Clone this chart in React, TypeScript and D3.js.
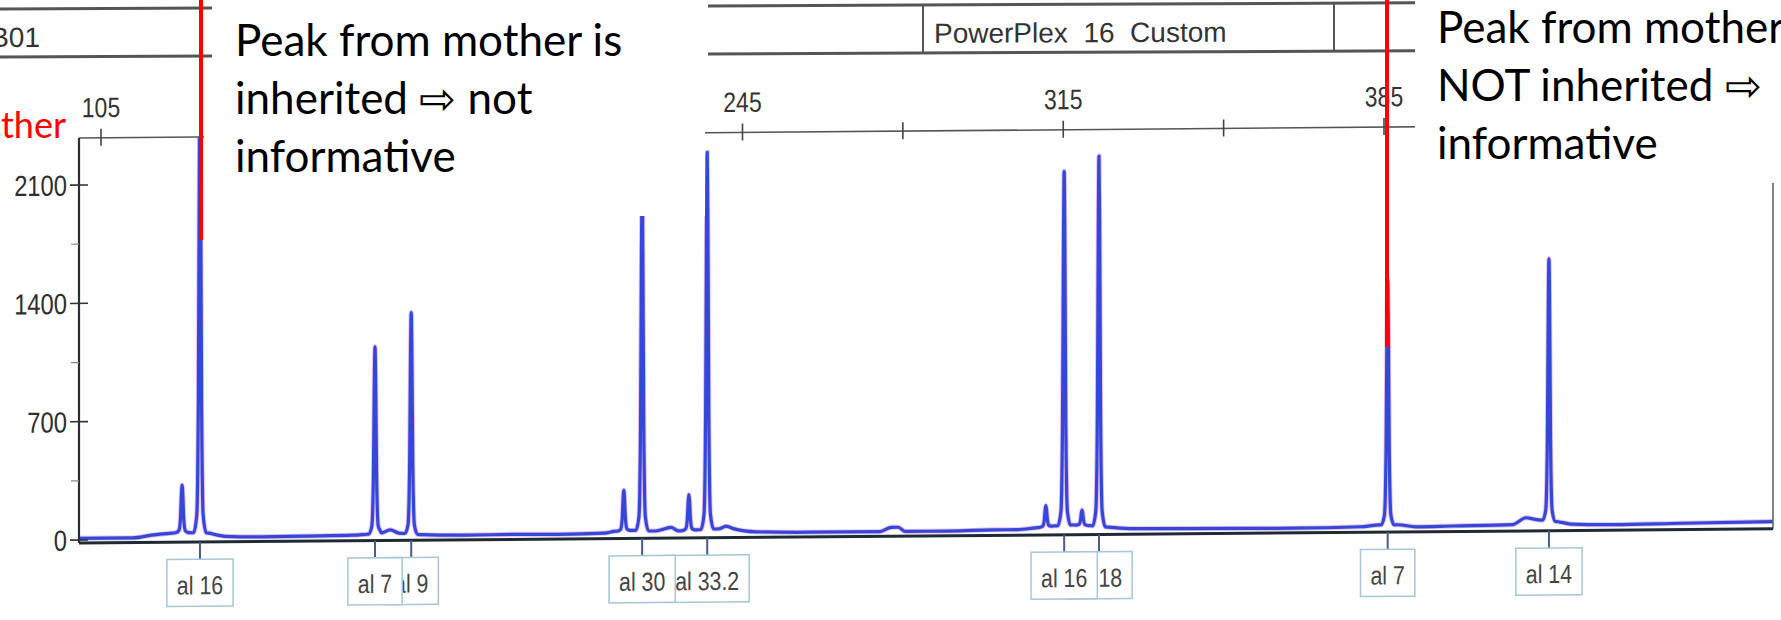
import React, { useEffect, useRef } from 'react';
import * as d3 from 'd3';

// peaks of the blue dye trace: fragment size (bp) and height (RFU)
const peakSizes = [122.7, 126.6, 164.8, 172.7, 219.1, 223.1, 233.3, 237.3, 311.2, 315.2, 319.1, 322.8, 385.8, 421.0];
const peakHeights = [280, 2600, 1105, 1310, 240, 2050, 210, 2230, 125, 2095, 90, 2190, 1450, 1550];

// baseline of the trace between the peaks
const baseSizes = [100, 112, 116, 120, 122, 128.5, 130, 132, 140, 150, 160, 163, 166, 168.1, 170, 175, 185, 195, 205, 215, 217, 221, 226, 229.4, 231, 235, 240, 241.4, 243, 248, 260, 275, 277.5, 279, 280.5, 290, 300, 305, 309, 313, 317, 321, 325, 330, 350, 365, 380, 384, 388, 392, 400, 413, 416, 418, 419.5, 423, 426, 435, 450, 470];
const baseLevels = [10, 10, 25, 35, 40, 35, 25, 15, 10, 12, 15, 20, 25, 45, 25, 15, 10, 12, 10, 15, 25, 30, 25, 45, 25, 30, 35, 50, 35, 15, 10, 10, 35, 35, 10, 10, 15, 15, 25, 35, 40, 35, 25, 15, 12, 10, 15, 25, 25, 12, 15, 20, 60, 50, 45, 35, 20, 15, 20, 25];

// called alleles
const alleleNames = ['al 16', 'al 7', 'al 9', 'al 30', 'al 33.2', 'al 16', 'al 18', 'al 7', 'al 14'];
const alleleSizes = [126.6, 164.8, 172.7, 223.1, 237.3, 315.2, 322.8, 385.8, 421.0];

// axes
const sizeTicks = [105, 140, 175, 210, 245, 280, 315, 350, 385, 420, 455];
const sizeLabels = [105, 245, 315, 385];
const rfuTicks = [0, 700, 1400, 2100];
const rfuMinorTicks = [350, 1050, 1750];

// text laid over the picture
const leftNote = ['Peak from mother is', 'inherited \u21E8 not', 'informative'];
const rightNote = ['Peak from mother is', 'NOT inherited \u21E8', 'informative'];

const W = 1781;
const H = 620;
const ARIAL = "'Liberation Sans', Arial, sans-serif";
const SLIDE_FONT = "Lato, 'Noto Sans', sans-serif";

// shape of one peak: offset in bp and fraction of the height
const profOff = [-1.4, -0.7, -0.35, -0.15, 0, 0.15, 0.35, 0.7, 1.4];
const profFrac = [0, 0.04, 0.3, 0.8, 1, 0.8, 0.3, 0.04, 0];

// the print-out uses a narrow helvetica, so squeeze arial to 82%
function narrowText(parent: any, x: number, y: number, s: string, anchor: string, size: number, fill: string) {
  return parent.append('text')
    .attr('transform', 'translate(' + x + ',' + y + ') scale(0.82,1)')
    .attr('text-anchor', anchor)
    .attr('font-family', ARIAL).attr('font-size', size).attr('fill', fill)
    .text(s);
}

export default function App() {
  const ref = useRef<SVGSVGElement>(null);

  useEffect(() => {
    const svg = d3.select(ref.current);
    svg.selectAll('*').remove();

    const left = 79, right = 1773, top = 138.7, bottom = 543.7;
    const x = d3.scaleLinear().domain([105, 385]).range([101, 1384]);
    const y = d3.scaleLinear().domain([0, 2100]).range([540.7, 185.7]);

    svg.append('defs').append('clipPath').attr('id', 'plotClip')
      .append('rect').attr('x', left).attr('y', top).attr('width', right - left).attr('height', bottom - top);

    // the scan is a little skewed
    const g = svg.append('g').attr('transform', 'skewY(-0.48)');

    // trace
    const baseAt = d3.scaleLinear().domain(baseSizes).range(baseLevels).clamp(true);
    const prof = d3.scaleLinear().domain(profOff).range(profFrac).clamp(true);
    let xs: number[] = baseSizes.slice();
    peakSizes.forEach(s => profOff.forEach(o => xs.push(s + o)));
    xs = Array.from(new Set(xs)).sort((a, b) => a - b);
    const pts = xs.map(s => {
      let v = baseAt(s);
      peakSizes.forEach((p, i) => { v += peakHeights[i] * prof(s - p); });
      return [s, v];
    });
    const line = d3.line<number[]>().x(d => x(d[0])).y(d => y(d[1])).curve(d3.curveMonotoneX);
    const tg = g.append('g').attr('clip-path', 'url(#plotClip)');
    tg.append('path').attr('d', line(pts)).attr('fill', 'none')
      .attr('stroke', '#c46fd6').attr('stroke-opacity', 0.45).attr('stroke-width', 5);
    tg.append('path').attr('d', line(pts)).attr('fill', 'none')
      .attr('stroke', '#3547d8').attr('stroke-width', 3.2).attr('stroke-linejoin', 'round');

    // frame
    g.append('line').attr('x1', left).attr('x2', right).attr('y1', top).attr('y2', top)
      .attr('stroke', '#555').attr('stroke-width', 1.6);
    g.append('line').attr('x1', right).attr('x2', right).attr('y1', top).attr('y2', bottom)
      .attr('stroke', '#666').attr('stroke-width', 1.6);
    g.append('line').attr('x1', left).attr('x2', left).attr('y1', top).attr('y2', bottom)
      .attr('stroke', '#2b2f36').attr('stroke-width', 2.2);
    g.append('line').attr('x1', left).attr('x2', right).attr('y1', bottom).attr('y2', bottom)
      .attr('stroke', '#1f2a33').attr('stroke-width', 3);

    // size axis on top
    g.selectAll('.stick').data(sizeTicks).enter().append('line')
      .attr('x1', d => x(d)).attr('x2', d => x(d)).attr('y1', top - 9).attr('y2', top + 8)
      .attr('stroke', '#444').attr('stroke-width', 1.6);
    sizeLabels.forEach(v => narrowText(g, x(v), 118, String(v), 'middle', 28, '#333'));

    // RFU axis
    g.selectAll('.ytick').data(rfuTicks).enter().append('line')
      .attr('x1', 70).attr('x2', 88).attr('y1', d => y(d)).attr('y2', d => y(d))
      .attr('stroke', '#333').attr('stroke-width', 1.6);
    g.selectAll('.yminor').data(rfuMinorTicks).enter().append('line')
      .attr('x1', 71).attr('x2', left).attr('y1', d => y(d)).attr('y2', d => y(d))
      .attr('stroke', '#888').attr('stroke-width', 1.2);
    rfuTicks.forEach(v => narrowText(g, 67, y(v) + 10.5, String(v), 'end', 29, '#2e2e2e'));

    // allele labels, right to left so the left box sits on top
    for (let i = alleleNames.length - 1; i >= 0; i--) {
      const cx = x(alleleSizes[i]);
      const lg = g.append('g');
      lg.append('line').attr('x1', cx).attr('x2', cx).attr('y1', bottom).attr('y2', 561)
        .attr('stroke', '#4b5c8c').attr('stroke-width', 2);
      const t = narrowText(lg, cx, 596, alleleNames[i], 'middle', 26, '#444');
      const tw = (t.node() as SVGTextElement).getComputedTextLength() * 0.82;
      lg.insert('rect', 'text').attr('x', cx - tw / 2 - 10).attr('y', 561)
        .attr('width', tw + 20).attr('height', 47)
        .attr('fill', '#fff').attr('stroke', '#a6c6da').attr('stroke-width', 1.5);
    }

    // white text boxes of the slide
    svg.append('rect').attr('x', 204).attr('y', 0).attr('width', 501).attr('height', 216).attr('fill', '#fff');
    svg.append('rect').attr('x', 1415).attr('y', 0).attr('width', W - 1415).attr('height', 183).attr('fill', '#fff');

    // header strip of the print-out
    const hg = svg.append('g').attr('transform', 'skewY(-0.25)');
    [[0, 212], [708, 1415]].forEach(([a, b]) => {
      hg.append('line').attr('x1', a).attr('x2', b).attr('y1', 9).attr('y2', 9)
        .attr('stroke', '#555').attr('stroke-width', 3);
      hg.append('line').attr('x1', a).attr('x2', b).attr('y1', 57).attr('y2', 57)
        .attr('stroke', '#555').attr('stroke-width', 3);
    });
    [923, 1334].forEach(v => {
      hg.append('line').attr('x1', v).attr('x2', v).attr('y1', 9).attr('y2', 57)
        .attr('stroke', '#555').attr('stroke-width', 2);
    });
    hg.append('text').attr('x', 40).attr('y', 47).attr('text-anchor', 'end')
      .attr('font-family', ARIAL).attr('font-size', 28).attr('fill', '#333')
      .text('B01');
    hg.append('text').attr('x', 934).attr('y', 47).style('white-space', 'pre')
      .attr('font-family', ARIAL).attr('font-size', 28).attr('fill', '#333')
      .text('PowerPlex  16  Custom');

    // red markers
    svg.append('line').attr('x1', 201).attr('x2', 201).attr('y1', 0).attr('y2', 240)
      .attr('stroke', '#ff0000').attr('stroke-width', 4);
    svg.append('line').attr('x1', 1387).attr('x2', 1387).attr('y1', 0).attr('y2', 347)
      .attr('stroke', '#ff0000').attr('stroke-width', 4);

    svg.append('text').attr('x', 66).attr('y', 138).attr('text-anchor', 'end')
      .attr('font-family', SLIDE_FONT).attr('font-size', 36).attr('fill', '#ff0000')
      .text('Mother');

    leftNote.forEach((s, i) => {
      svg.append('text').attr('x', 235).attr('y', 56 + i * 58)
        .attr('font-family', SLIDE_FONT).attr('font-size', 44).attr('fill', '#000').text(s);
    });
    rightNote.forEach((s, i) => {
      svg.append('text').attr('x', 1437).attr('y', 43 + i * 58)
        .attr('font-family', SLIDE_FONT).attr('font-size', 44).attr('fill', '#000').text(s);
    });
  }, []);

  return (
    <svg ref={ref} width={W} height={H}
      style={{ position: 'absolute', left: 0, top: 0, background: '#fff' }} />
  );
}
